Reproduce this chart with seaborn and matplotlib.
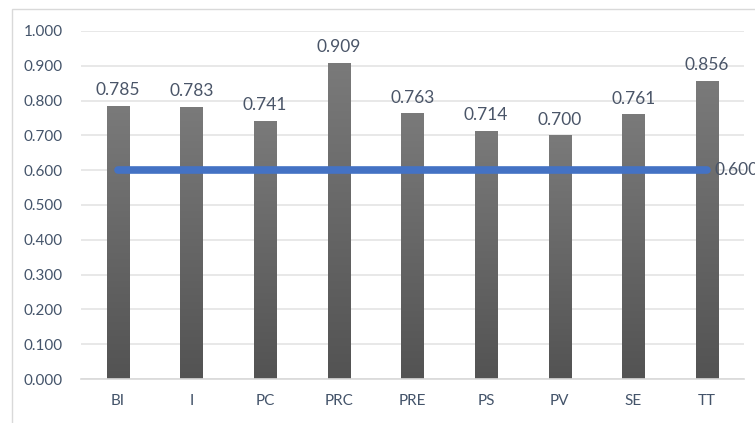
import numpy as np
import pandas as pd
import matplotlib
matplotlib.use("Agg")
import matplotlib.pyplot as plt
from matplotlib.colors import LinearSegmentedColormap
from matplotlib.patches import Rectangle
import seaborn as sns

categories = ["BI", "I", "PC", "PRC", "PRE", "PS", "PV", "SE", "TT"]
values = [0.785, 0.783, 0.741, 0.909, 0.763, 0.714, 0.700, 0.761, 0.856]
threshold = [0.600] * len(categories)
y_ticks = [0.0, 0.1, 0.2, 0.3, 0.4, 0.5, 0.6, 0.7, 0.8, 0.9, 1.0]

sns.set_theme(style="white")
plt.rcParams["font.family"] = ["Lato", "DejaVu Sans"]

text_color = "#44546A"
label_color = "#4A5568"

df = pd.DataFrame({"category": categories, "value": values, "threshold": threshold})

fig = plt.figure(figsize=(7.55, 4.23), dpi=100)
ax = fig.add_axes([81 / 755, 1 - 379 / 423, (744 - 81) / 755, (379 - 31) / 423])

sns.barplot(data=df, x="category", y="value", color="#666666", width=0.3,
            saturation=1, ax=ax, zorder=2)

# vertical grey gradient on each bar
cmap = LinearSegmentedColormap.from_list("bar", ["#535353", "#7a7a7a"])
grad = np.linspace(0, 1, 256).reshape(-1, 1)
for patch in ax.patches:
    x0, y0 = patch.get_x(), patch.get_y()
    w, h = patch.get_width(), patch.get_height()
    patch.set_facecolor("none")
    patch.set_edgecolor("none")
    im = ax.imshow(grad, cmap=cmap, origin="lower", aspect="auto",
                   extent=[x0, x0 + w, y0, y0 + h], zorder=2)
    im.set_clip_path(patch)

# threshold line
sns.lineplot(data=df, x="category", y="threshold", color="#4472C4",
             linewidth=5.5, ax=ax, zorder=3, solid_capstyle="round")

ax.set_xlim(-0.5, len(categories) - 0.5)
ax.set_ylim(0, 1.0)
ax.set_yticks(y_ticks)
ax.set_yticklabels([f"{t:.3f}" for t in y_ticks])
ax.yaxis.grid(True, color="#E4E4E4", linewidth=1.2, zorder=0)
ax.set_axisbelow(True)
for s in ax.spines.values():
    s.set_visible(False)
ax.spines["bottom"].set_visible(True)
ax.spines["bottom"].set_color("#D9D9D9")
ax.spines["bottom"].set_linewidth(1.2)
ax.tick_params(axis="both", length=0, labelsize=11, colors=text_color)
ax.tick_params(axis="y", pad=13)
ax.tick_params(axis="x", pad=11)
ax.set_xlabel("")
ax.set_ylabel("")

for i, v in enumerate(values):
    ax.text(i, v + 0.022, f"{v:.3f}", ha="center", va="bottom",
            fontsize=12.5, color=label_color)

ax.text(len(categories) - 1 + 0.1, threshold[-1], f"{threshold[-1]:.3f}",
        ha="left", va="center", fontsize=12.5, color=label_color, clip_on=False)

# chart area frame
fig.patches.append(Rectangle((12 / 755, -0.1), 1.2, 1 - 9 / 423 + 0.1,
                             transform=fig.transFigure, fill=False,
                             edgecolor="#D9D9D9", linewidth=1.0))

fig.savefig("out.png", dpi=100)
